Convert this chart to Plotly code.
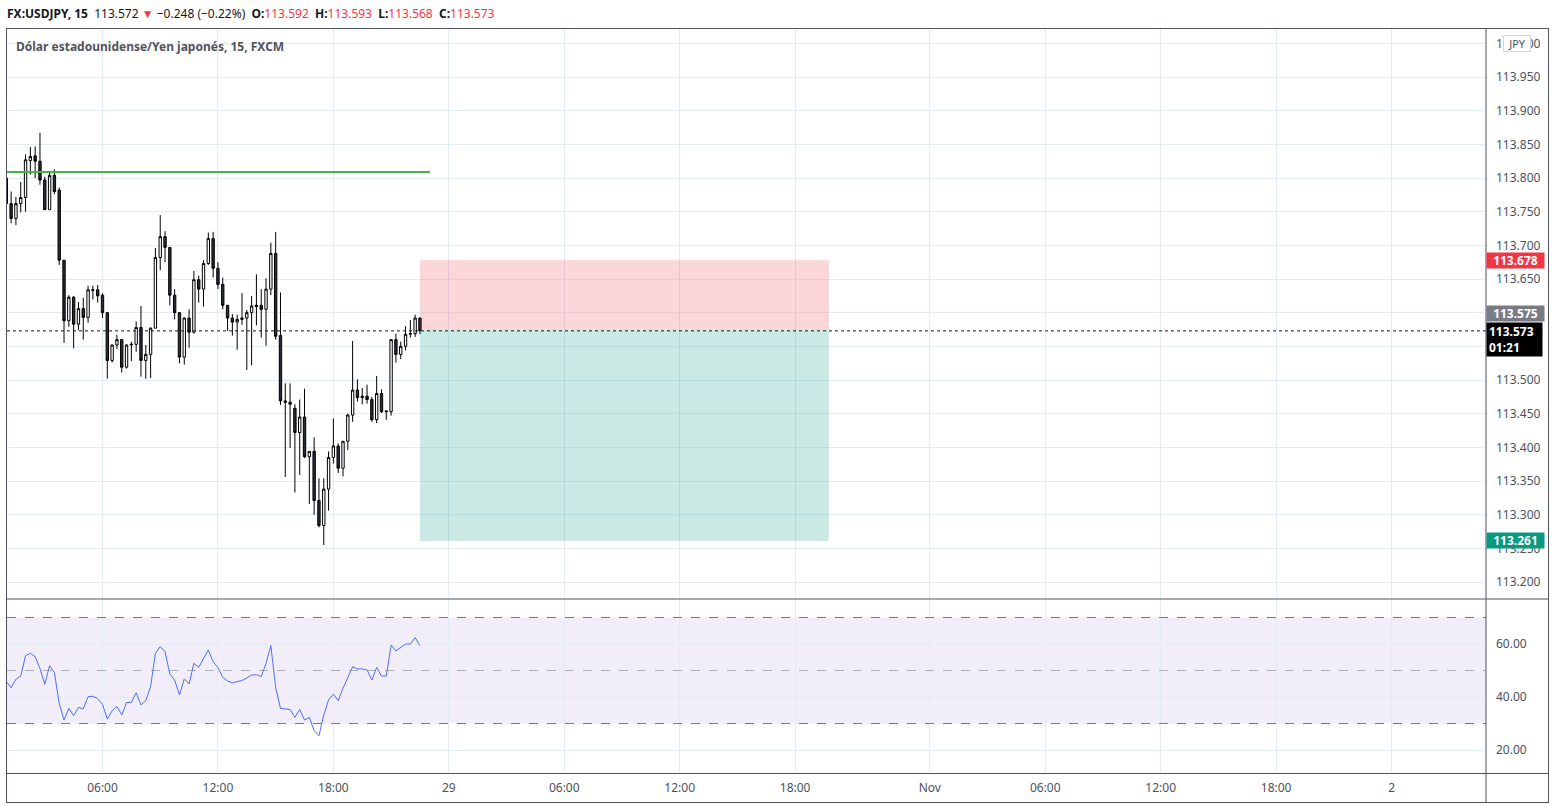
import plotly.graph_objects as go

# ---------------- data ----------------
bar_index = list(range(87))  # 15-minute bars, index 0 = 28 Oct 01:00

open_ = [113.800, 113.762, 113.740, 113.762, 113.771, 113.826, 113.833, 113.825, 113.797, 113.753,
         113.804, 113.782, 113.678, 113.588, 113.623, 113.583, 113.606, 113.593, 113.633, 113.634,
         113.626, 113.600, 113.529, 113.552, 113.560, 113.519, 113.552, 113.553, 113.578, 113.529,
         113.538, 113.577, 113.682, 113.713, 113.697, 113.626, 113.600, 113.534, 113.592, 113.571,
         113.649, 113.635, 113.673, 113.710, 113.666, 113.642, 113.611, 113.592, 113.586, 113.590,
         113.592, 113.600, 113.611, 113.611, 113.605, 113.635, 113.688, 113.566, 113.469, 113.467,
         113.458, 113.422, 113.445, 113.386, 113.394, 113.321, 113.284, 113.338, 113.385, 113.402,
         113.369, 113.409, 113.448, 113.485, 113.476, 113.476, 113.471, 113.441, 113.480, 113.453,
         113.453, 113.560, 113.538, 113.550, 113.568, 113.569, 113.592]
high = [113.801, 113.780, 113.772, 113.794, 113.835, 113.846, 113.847, 113.867, 113.802, 113.810,
        113.813, 113.786, 113.678, 113.626, 113.625, 113.616, 113.622, 113.640, 113.640, 113.641,
        113.629, 113.601, 113.553, 113.567, 113.561, 113.553, 113.557, 113.587, 113.610, 113.552,
        113.578, 113.696, 113.745, 113.721, 113.697, 113.635, 113.601, 113.593, 113.605, 113.662,
        113.655, 113.678, 113.719, 113.720, 113.675, 113.652, 113.611, 113.598, 113.597, 113.629,
        113.604, 113.625, 113.657, 113.635, 113.651, 113.704, 113.720, 113.630, 113.495, 113.495,
        113.464, 113.471, 113.487, 113.394, 113.415, 113.354, 113.354, 113.394, 113.443, 113.406,
        113.409, 113.450, 113.558, 113.501, 113.488, 113.493, 113.475, 113.506, 113.486, 113.454,
        113.560, 113.569, 113.557, 113.580, 113.589, 113.597, 113.593]
low = [113.761, 113.733, 113.730, 113.749, 113.750, 113.805, 113.800, 113.790, 113.753, 113.753,
       113.776, 113.671, 113.555, 113.579, 113.547, 113.574, 113.560, 113.585, 113.620, 113.615,
       113.592, 113.502, 113.526, 113.546, 113.511, 113.517, 113.528, 113.542, 113.505, 113.502,
       113.503, 113.577, 113.663, 113.675, 113.611, 113.590, 113.525, 113.523, 113.548, 113.569,
       113.615, 113.609, 113.671, 113.652, 113.635, 113.605, 113.573, 113.566, 113.545, 113.582,
       113.515, 113.522, 113.581, 113.563, 113.551, 113.626, 113.560, 113.463, 113.356, 113.399,
       113.333, 113.359, 113.384, 113.316, 113.300, 113.281, 113.255, 113.306, 113.376, 113.362,
       113.357, 113.396, 113.438, 113.468, 113.464, 113.465, 113.438, 113.436, 113.451, 113.441,
       113.447, 113.526, 113.531, 113.544, 113.563, 113.564, 113.568]
close = [113.762, 113.740, 113.762, 113.771, 113.827, 113.832, 113.825, 113.797, 113.753, 113.804,
         113.780, 113.678, 113.588, 113.623, 113.583, 113.606, 113.593, 113.634, 113.634, 113.625,
         113.600, 113.529, 113.552, 113.560, 113.519, 113.552, 113.553, 113.578, 113.529, 113.538,
         113.577, 113.682, 113.713, 113.697, 113.626, 113.600, 113.534, 113.592, 113.571, 113.649,
         113.635, 113.673, 113.710, 113.666, 113.642, 113.611, 113.592, 113.586, 113.590, 113.592,
         113.600, 113.610, 113.609, 113.605, 113.635, 113.688, 113.565, 113.469, 113.467, 113.464,
         113.422, 113.445, 113.386, 113.394, 113.321, 113.284, 113.338, 113.385, 113.402, 113.369,
         113.409, 113.448, 113.485, 113.474, 113.474, 113.471, 113.441, 113.480, 113.453, 113.454,
         113.560, 113.538, 113.550, 113.568, 113.569, 113.592, 113.573]

rsi = [45.8, 43.5, 46.7, 47.9, 55.6, 56.5, 55.2, 50.8, 44.8, 51.8,
       49.2, 37.6, 31.3, 35.7, 33.0, 36.1, 35.5, 40.1, 40.3, 39.4,
       37.2, 31.7, 34.8, 36.4, 33.2, 37.9, 38.0, 41.6, 37.0, 38.6,
       43.9, 56.5, 59.0, 57.1, 48.7, 46.4, 40.8, 46.8, 44.9, 52.7,
       51.2, 54.3, 57.7, 53.3, 51.1, 47.4, 46.0, 45.4, 45.9, 46.2,
       47.2, 48.3, 48.4, 47.7, 52.7, 59.4, 43.6, 35.7, 35.5, 35.3,
       32.3, 35.3, 31.3, 32.3, 27.3, 25.4, 33.2, 38.9, 41.1, 38.6,
       43.3, 47.4, 51.4, 50.6, 50.6, 50.2, 46.4, 51.2, 47.9, 47.9,
       59.6, 57.4, 58.6, 60.0, 60.0, 62.4, 59.4]

time_tick_idx = [20, 44, 68, 92, 116, 140, 164, 192, 216, 240, 264, 288]
time_tick_text = ["06:00", "12:00", "18:00", "29", "06:00", "12:00", "18:00",
                  "Nov", "06:00", "12:00", "18:00", "2"]

price_ticks = [113.20, 113.25, 113.30, 113.35, 113.40, 113.45, 113.50, 113.55, 113.60,
               113.65, 113.70, 113.75, 113.80, 113.85, 113.90, 113.95, 114.00]
price_tick_text = ["113.200", "113.250", "113.300", "113.350", "113.400", "113.450",
                   "113.500", "113.550", "113.600", "113.650", "113.700", "113.750",
                   "113.800", "113.850", "113.900", "113.950", "114.000"]
hidden_price_ticks = ["113.550", "113.600"]   # fully covered by the price labels
rsi_ticks = [20, 40, 60]
rsi_tick_text = ["20.00", "40.00", "60.00"]

level_price = 113.809          # green horizontal line
level_end_idx = 88.1
entry_price = 113.575
stop_price = 113.678
target_price = 113.261
last_price = 113.573
tool_start_idx = 86
tool_end_idx = 171

# ---------------- geometry helpers ----------------
W, H = 1556, 807
ML, MR, MT, MB = 7, 70, 28, 34
PW = W - ML - MR
PH = H - MT - MB


def px_x(p):
    return (p - ML) / PW


def px_y(p):
    return (H - MB - p) / PH


GRID = "#e4ecf2"
FRAME = "#50535e"
TXT = "#4c525e"
FONT = "Noto Sans"

fig = go.Figure()

fig.add_trace(go.Candlestick(
    x=bar_index, open=open_, high=high, low=low, close=close,
    increasing=dict(line=dict(color="#000000", width=1), fillcolor="#ffffff"),
    decreasing=dict(line=dict(color="#000000", width=1), fillcolor="#2a2e39"),
    whiskerwidth=0, xaxis="x", yaxis="y", showlegend=False, hoverinfo="skip"))

fig.add_trace(go.Scatter(
    x=bar_index, y=rsi, mode="lines", line=dict(color="#4d6ff3", width=1),
    xaxis="x2", yaxis="y2", showlegend=False, hoverinfo="skip"))

xr = [(7 - 6.3) / 4.81, (1486 - 6.3) / 4.81]
shown_price_text = ["" if t in hidden_price_ticks else t for t in price_tick_text]

fig.update_layout(
    width=W, height=H, margin=dict(l=ML, r=MR, t=MT, b=MB),
    paper_bgcolor="white", plot_bgcolor="white",
    font=dict(family=FONT, size=12, color=TXT),
    xaxis=dict(domain=[0, 1], range=xr, anchor="y", tickvals=time_tick_idx,
               showticklabels=False, showgrid=True, gridcolor=GRID, gridwidth=1,
               zeroline=False, showline=False, ticks="", rangeslider=dict(visible=False)),
    xaxis2=dict(domain=[0, 1], range=xr, anchor="y2", matches="x", tickvals=time_tick_idx,
                ticktext=time_tick_text, showgrid=True, gridcolor=GRID, gridwidth=1,
                zeroline=False, showline=False, ticks="", ticklabelstandoff=6,
                tickfont=dict(family=FONT, size=12, color=TXT)),
    yaxis=dict(domain=[px_y(598), 1], range=[113.2 - 16 / 673.3, 113.2 + 554 / 673.3],
               anchor="x", side="right", tickvals=price_ticks, ticktext=shown_price_text,
               showgrid=True, gridcolor=GRID, gridwidth=1, zeroline=False, showline=False,
               ticks="", ticklabelstandoff=9, tickfont=dict(family=FONT, size=12, color=TXT)),
    yaxis2=dict(domain=[0, px_y(600)], range=[40 - 76 / 2.65, 60 + 44 / 2.65],
                anchor="x2", side="right", tickvals=rsi_ticks, ticktext=rsi_tick_text,
                showgrid=True, gridcolor=GRID, gridwidth=1, zeroline=False, showline=False,
                ticks="", ticklabelstandoff=9, tickfont=dict(family=FONT, size=12, color=TXT)),
)

shapes = []
# RSI band and levels
shapes.append(dict(type="rect", xref="x2 domain", yref="y2", x0=0, x1=1, y0=30, y1=70,
                   fillcolor="rgba(126,87,194,0.10)", line=dict(width=0), layer="below"))
for lvl, col in [(70, "#787b86"), (30, "#787b86"), (50, "rgba(120,123,134,0.55)")]:
    shapes.append(dict(type="line", xref="x2 domain", yref="y2", x0=0, x1=1, y0=lvl, y1=lvl,
                       line=dict(color=col, width=1, dash="dash")))
# position tool
shapes.append(dict(type="rect", xref="x", yref="y", x0=tool_start_idx, x1=tool_end_idx,
                   y0=entry_price, y1=stop_price, fillcolor="rgba(242,54,69,0.20)",
                   line=dict(width=0)))
shapes.append(dict(type="rect", xref="x", yref="y", x0=tool_start_idx, x1=tool_end_idx,
                   y0=target_price, y1=entry_price, fillcolor="rgba(8,153,129,0.21)",
                   line=dict(width=0)))
# green level line
shapes.append(dict(type="line", xref="x", yref="y", x0=bar_index[0], x1=level_end_idx,
                   y0=level_price, y1=level_price, line=dict(color="#4caf50", width=2)))
# last price dotted line
shapes.append(dict(type="line", xref="x domain", yref="y", x0=0, x1=1,
                   y0=last_price, y1=last_price, line=dict(color="#131722", width=1, dash="dot")))


# frame lines (paper)
def hline(py, x0p=7, x1p=1549):
    shapes.append(dict(type="line", xref="paper", yref="paper", x0=px_x(x0p), x1=px_x(x1p),
                       y0=px_y(py), y1=px_y(py), line=dict(color=FRAME, width=1)))


def vline(pxx, y0p=28, y1p=803):
    shapes.append(dict(type="line", xref="paper", yref="paper", x0=px_x(pxx), x1=px_x(pxx),
                       y0=px_y(y0p), y1=px_y(y1p), line=dict(color=FRAME, width=1)))


hline(28.5)
hline(599)
hline(773.5)
hline(802.5)
vline(6.5)
vline(1486)
vline(1548.5)

fig.update_layout(shapes=shapes)

ann = []
RED = "#f23645"
ann.append(dict(
    xref="paper", yref="paper", x=px_x(5), y=px_y(14), xanchor="left", yanchor="middle",
    showarrow=False, font=dict(family=FONT, size=12, color="#131722"),
    text=("<b>FX:USDJPY, 15</b>  113.572 <span style='color:%s'>▼</span> −0.248 (−0.22%%)  "
          "<b>O:</b><span style='color:%s'>113.592</span>  <b>H:</b><span style='color:%s'>113.593</span>  "
          "<b>L:</b><span style='color:%s'>113.568</span>  <b>C:</b><span style='color:%s'>113.573</span>")
         % (RED, RED, RED, RED, RED)))
ann.append(dict(
    xref="paper", yref="paper", x=px_x(14), y=px_y(46), xanchor="left", yanchor="middle",
    showarrow=False, font=dict(family=FONT, size=12, color="#50535e"),
    text="<b>Dólar estadounidense/Yen japonés, 15, FXCM</b>"))
ann.append(dict(
    xref="paper", yref="paper", x=px_x(1517), y=px_y(44), xanchor="center", yanchor="middle",
    showarrow=False, font=dict(family=FONT, size=11, color="#50535e"), text="JPY",
    bgcolor="white", bordercolor="#d1d4dc", borderwidth=1, borderpad=1, width=24, height=13))


def price_label(price, text, bg, yshift=0, height=13):
    ann.append(dict(xref="paper", yref="y", x=1, y=price, xanchor="left", yanchor="middle",
                    xshift=0, yshift=yshift, showarrow=False, text=text, align="center",
                    font=dict(family=FONT, size=12, color="white"), bgcolor=bg,
                    borderpad=1, width=55, height=height))


price_label(stop_price, "<b>113.678</b>", "#f23645")
price_label(entry_price, "<b>113.575</b>", "#787b86", yshift=16)
price_label(target_price, "<b>113.261</b>", "#089981")
ann.append(dict(xref="paper", yref="y", x=1, y=last_price, xanchor="left", yanchor="top",
                yshift=9, showarrow=False, text="<b>113.573</b><br><b>01:21</b>", align="left",
                font=dict(family=FONT, size=12, color="white"), bgcolor="#000000",
                borderpad=2, width=51, height=29))

fig.update_layout(annotations=ann)

fig.write_html("out.html", config={"displayModeBar": False})
